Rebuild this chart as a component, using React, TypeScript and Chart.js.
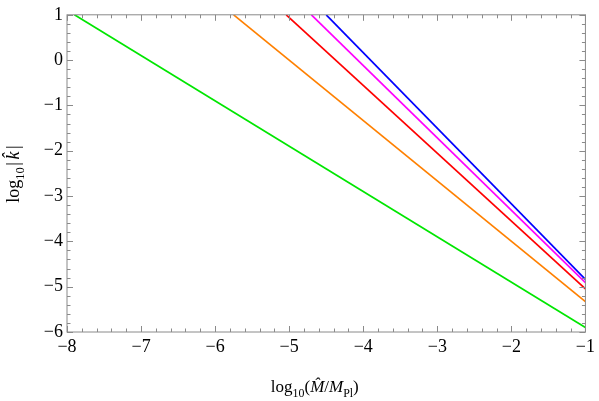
import React, { useEffect, useRef } from "react";
import { Chart, registerables } from "chart.js";

Chart.register(...registerables);

// Data (log10 M̂/MPl on x, log10|k̂| on y)
const seriesColors = ["#00e600", "#ff8000", "#ff0000", "#ff00ff", "#0000ff"];
const seriesNames = ["green", "orange", "red", "magenta", "blue"];
const xStart = [-7.9, -5.75, -5.04, -4.7, -4.5];
const yStart = [1, 1, 1, 1, 1];
const xEnd = [-1, -1, -1, -1, -1];
const yEnd = [-5.9, -5.33, -5.05, -4.91, -4.84];

const xMin = -8;
const xMax = -1;
const yMin = -6;
const yMax = 1;

const FONT = "'Liberation Serif', 'DejaVu Serif', serif";
const FRAME = "#8a8a8a";

const fmt = (v: number | string) => String(v).replace("-", "\u2212");

function drawRich(
  ctx: CanvasRenderingContext2D,
  parts: { t: string; sub?: boolean; it?: boolean; gap?: number }[],
  size: number
) {
  let w = 0;
  const fonts = parts.map((p) => {
    const s = p.sub ? size * 0.7 : size;
    return `${p.it ? "italic " : ""}${s}px ${FONT}`;
  });
  parts.forEach((p, i) => {
    ctx.font = fonts[i];
    w += ctx.measureText(p.t).width + (p.gap || 0) * 2;
  });
  let x = -w / 2;
  parts.forEach((p, i) => {
    ctx.font = fonts[i];
    x += p.gap || 0;
    ctx.fillText(p.t, x, p.sub ? size * 0.28 : 0);
    x += ctx.measureText(p.t).width + (p.gap || 0);
  });
}

const framePlugin = {
  id: "framePlugin",
  afterDraw(chart: any) {
    const { ctx, chartArea, scales } = chart;
    const xs = scales.x;
    const ys = scales.y;
    const { left, right, top, bottom } = chartArea;
    ctx.save();
    ctx.strokeStyle = FRAME;
    ctx.lineWidth = 1;
    ctx.strokeRect(left, top, right - left, bottom - top);
    ctx.beginPath();
    for (let i = 0; i <= 35; i++) {
      const v = xMin + i * 0.2;
      const px = Math.round(xs.getPixelForValue(v)) + 0.5;
      const major = i % 5 === 0;
      const len = major ? 6 : 3.5;
      ctx.moveTo(px, bottom);
      ctx.lineTo(px, bottom - len);
      ctx.moveTo(px, top);
      ctx.lineTo(px, top + len);
    }
    for (let i = 0; i <= 35; i++) {
      const v = yMin + i * 0.2;
      const py = Math.round(ys.getPixelForValue(v)) + 0.5;
      const major = i % 5 === 0;
      const len = major ? 6 : 3.5;
      ctx.moveTo(left, py);
      ctx.lineTo(left + len, py);
      ctx.moveTo(right, py);
      ctx.lineTo(right - len, py);
    }
    ctx.stroke();

    // axis titles
    ctx.fillStyle = "#000";
    ctx.textBaseline = "alphabetic";
    ctx.textAlign = "left";
    ctx.save();
    ctx.translate(left + (right - left) * 0.478, 392);
    drawRich(
      ctx,
      [
        { t: "log" },
        { t: "10", sub: true },
        { t: "(" },
        { t: "M\u0302", it: true },
        { t: "/" },
        { t: "M", it: true },
        { t: "Pl", sub: true },
        { t: ")" },
      ],
      17
    );
    ctx.restore();
    ctx.save();
    ctx.translate(19, (top + bottom) / 2);
    ctx.rotate(-Math.PI / 2);
    drawRich(
      ctx,
      [
        { t: "log" },
        { t: "10", sub: true },
        { t: "|", gap: 1.5 },
        { t: "k\u0302", it: true, gap: 1 },
        { t: "|", gap: 1.5 },
      ],
      18
    );
    ctx.restore();
    ctx.restore();
  },
};

export default function App() {
  const ref = useRef<HTMLCanvasElement | null>(null);
  useEffect(() => {
    if (!ref.current) return;
    const datasets = seriesNames.map((name, i) => ({
      label: name,
      data: [
        { x: xStart[i], y: yStart[i] },
        { x: xEnd[i], y: yEnd[i] },
      ],
      borderColor: seriesColors[i],
      backgroundColor: seriesColors[i],
      borderWidth: 1.7,
      pointRadius: 0,
      fill: false,
      tension: 0,
    }));
    const chart = new Chart(ref.current, {
      type: "line",
      data: { datasets },
      plugins: [framePlugin],
      options: {
        animation: false,
        responsive: false,
        layout: { padding: { left: 0, right: 13, top: 11, bottom: 0 } },
        plugins: { legend: { display: false }, tooltip: { enabled: false } },
        scales: {
          x: {
            type: "linear",
            min: xMin,
            max: xMax,
            afterFit: (s: any) => {
              s.height = 69;
            },
            grid: { display: false, drawTicks: false },
            border: { display: false },
            ticks: {
              stepSize: 1,
              padding: 4,
              color: "#000",
              font: { family: FONT, size: 18 },
              maxRotation: 0,
              callback: (v: any) => fmt(v),
            },
          },
          y: {
            type: "linear",
            min: yMin,
            max: yMax,
            afterFit: (s: any) => {
              s.width = 67;
            },
            grid: { display: false, drawTicks: false },
            border: { display: false },
            ticks: {
              stepSize: 1,
              padding: 4,
              color: "#000",
              font: { family: FONT, size: 18 },
              callback: (v: any) => fmt(v),
            },
          },
        },
      },
    } as any);
    return () => chart.destroy();
  }, []);
  return (
    <div style={{ position: "fixed", left: 0, top: 0, width: 599, height: 401, background: "#fff" }}>
      <canvas ref={ref} width={599} height={401} />
    </div>
  );
}
